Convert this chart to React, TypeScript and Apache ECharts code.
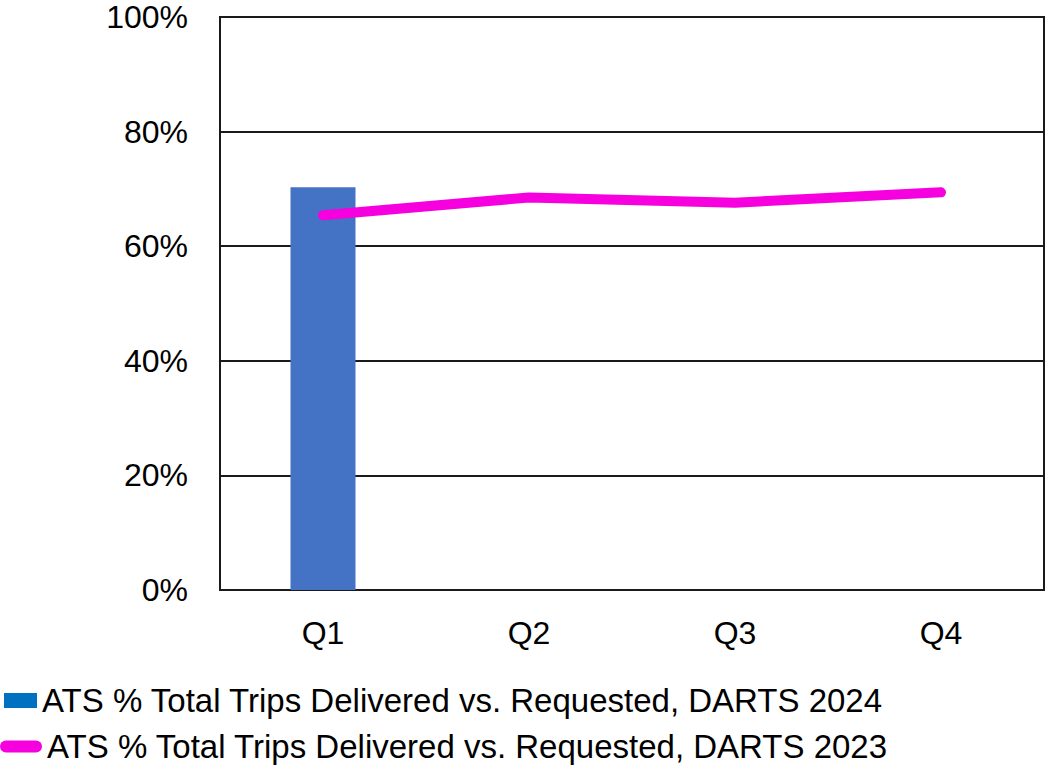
import React, { useEffect, useRef } from "react";
import * as echarts from "echarts";

const categories = ["Q1", "Q2", "Q3", "Q4"];
const series2024 = [70.3, null, null, null];
const series2023 = [65.4, 68.5, 67.6, 69.4];
const name2024 = "ATS % Total Trips Delivered vs. Requested, DARTS 2024";
const name2023 = "ATS % Total Trips Delivered vs. Requested, DARTS 2023";

const FONT = "'Liberation Sans', Arial, sans-serif";

export default function App() {
  const ref = useRef<HTMLDivElement>(null);
  useEffect(() => {
    if (!ref.current) return;
    const chart = echarts.init(ref.current, null, { renderer: "svg" });
    chart.setOption({
      animation: false,
      grid: {
        left: 220,
        top: 17,
        right: 1,
        bottom: 180,
        show: true,
        borderColor: "#1a1a1a",
        borderWidth: 2,
        backgroundColor: "transparent",
      },
      legend: [
        {
          orient: "vertical",
          left: 4,
          top: 684,
          padding: 0,
          itemWidth: 33,
          itemHeight: 15,
          itemGap: 3,
          selectedMode: false,
          textStyle: { fontFamily: FONT, fontSize: 33, color: "#000" },
          data: [{ name: name2024, icon: "rect", itemStyle: { color: "#0070C0" } }],
        },
        {
          orient: "vertical",
          left: 0,
          top: 730,
          padding: 0,
          itemWidth: 42,
          itemHeight: 12,
          itemGap: 3,
          selectedMode: false,
          textStyle: { fontFamily: FONT, fontSize: 33, color: "#000" },
          data: [
            {
              name: name2023,
              icon: "path://M6,0 H36 A6,6 0 0 1 36,12 H6 A6,6 0 0 1 6,0 Z",
              itemStyle: { color: "#F600DF" },
            },
          ],
        },
      ],
      xAxis: {
        type: "category",
        data: categories,
        boundaryGap: true,
        axisLine: { show: true, lineStyle: { color: "#1a1a1a", width: 2 } },
        axisTick: { show: false },
        axisLabel: { fontFamily: FONT, fontSize: 32, color: "#000", margin: 27 },
      },
      yAxis: {
        type: "value",
        min: 0,
        max: 100,
        interval: 20,
        axisLine: { show: true, lineStyle: { color: "#1a1a1a", width: 2 } },
        axisTick: { show: false },
        splitLine: { show: true, lineStyle: { color: "#1a1a1a", width: 2 } },
        axisLabel: {
          fontFamily: FONT,
          fontSize: 32,
          color: "#000",
          margin: 32,
          formatter: "{value}%",
        },
      },
      series: [
        {
          name: name2024,
          type: "bar",
          data: series2024,
          barWidth: 65,
          itemStyle: { color: "#4472C4" },
        },
        {
          name: name2023,
          type: "line",
          data: series2023,
          showSymbol: false,
          symbol: "none",
          lineStyle: { color: "#F600DF", width: 10, cap: "round", join: "round" },
          itemStyle: { color: "#F600DF" },
        },
      ],
    });
    return () => chart.dispose();
  }, []);
  return <div ref={ref} style={{ width: 1045, height: 770, position: "absolute", left: 0, top: 0 }} />;
}
